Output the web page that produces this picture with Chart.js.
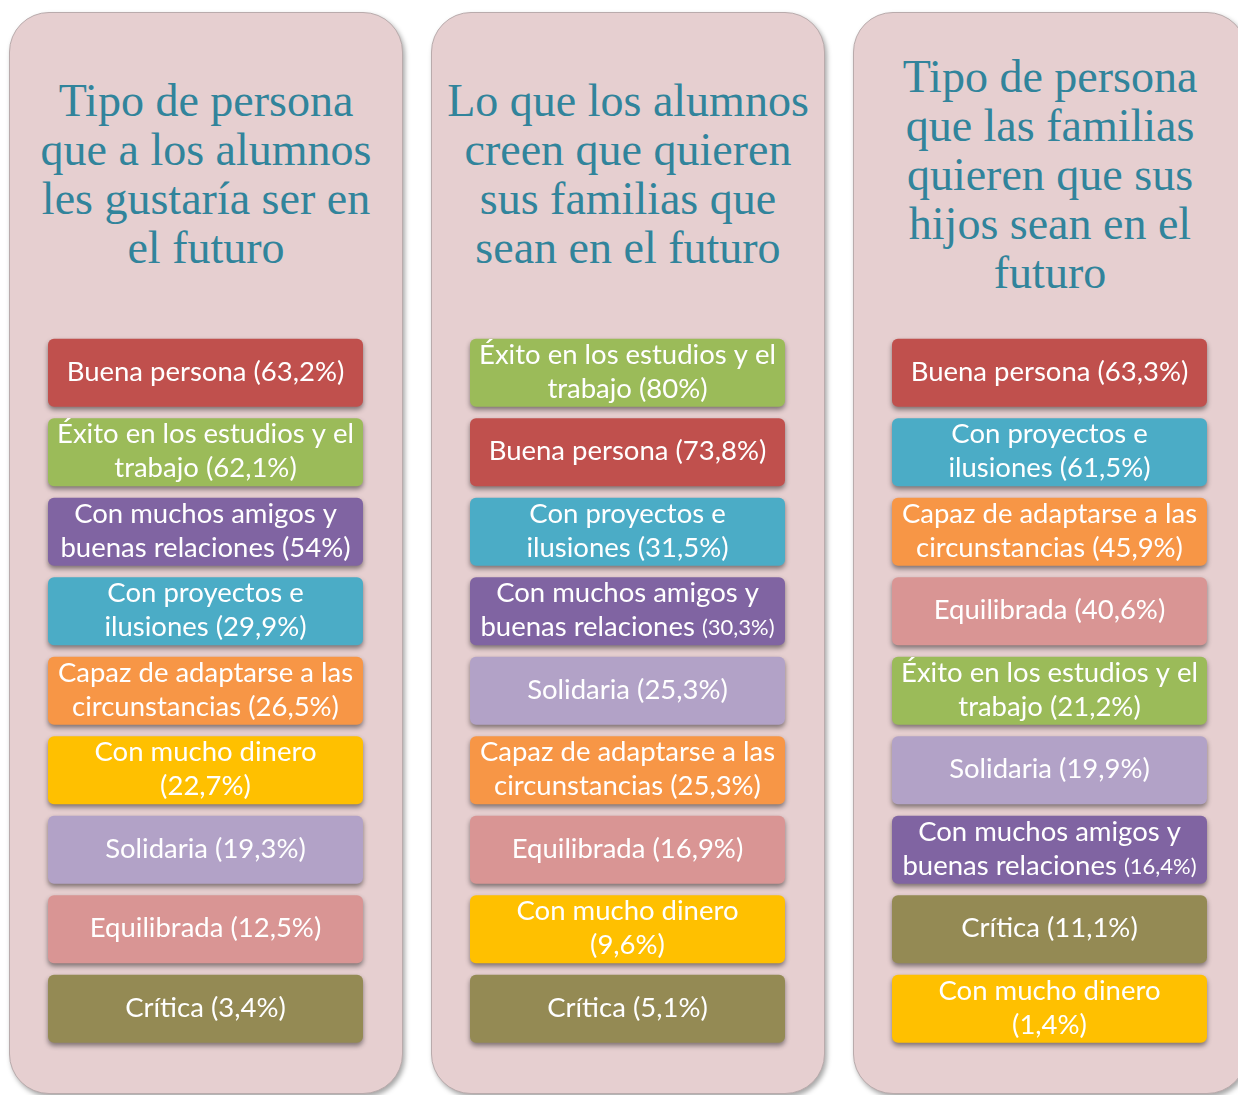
<!DOCTYPE html>
<html>
<head>
<meta charset="utf-8">
<script src="https://cdn.jsdelivr.net/npm/chart.js@4.4.0/dist/chart.umd.min.js"></script>
<style>
  body { margin: 0; width: 1238px; height: 1095px; overflow: hidden; background: #fff; position: relative; }
  .panel { position: absolute; top: 12px; width: 394px; height: 1082px; background: #e6cfd0;
           border: 1px solid #b9abac; border-radius: 40px; box-shadow: 2px 3px 5px rgba(0,0,0,.35); box-sizing: border-box; }
  .titulo { position: absolute; left: 0; right: 0; top: 0; height: 322px; display: flex; align-items: center;
            justify-content: center; text-align: center; font-family: "Liberation Serif", serif; font-size: 46px;
            line-height: 49px; color: #31849b; }
  canvas { position: absolute; top: 323px; }
</style>
</head>
<body>
<div class="panel" style="left:9px"><div class="titulo">Tipo de persona<br>que a los alumnos<br>les gustaría ser en<br>el futuro</div></div>
<div class="panel" style="left:431px"><div class="titulo">Lo que los alumnos<br>creen que quieren<br>sus familias que<br>sean en el futuro</div></div>
<div class="panel" style="left:853px"><div class="titulo">Tipo de persona<br>que las familias<br>quieren que sus<br>hijos sean en el<br>futuro</div></div>
<canvas id="c1" width="335" height="740" style="left:38px"></canvas>
<canvas id="c2" width="335" height="740" style="left:460px"></canvas>
<canvas id="c3" width="335" height="740" style="left:882px"></canvas>
<script>
// Datos: cada categoría en líneas; '' = el porcentaje va solo en la última línea
var categorias1 = [["Buena persona"], ["Éxito en los estudios y el", "trabajo"], ["Con muchos amigos y", "buenas relaciones"],
  ["Con proyectos e", "ilusiones"], ["Capaz de adaptarse a las", "circunstancias"], ["Con mucho dinero", ""],
  ["Solidaria"], ["Equilibrada"], ["Crítica"]];
var valores1 = [63.2, 62.1, 54, 29.9, 26.5, 22.7, 19.3, 12.5, 3.4];

var categorias2 = [["Éxito en los estudios y el", "trabajo"], ["Buena persona"], ["Con proyectos e", "ilusiones"],
  ["Con muchos amigos y", "buenas relaciones"], ["Solidaria"], ["Capaz de adaptarse a las", "circunstancias"],
  ["Equilibrada"], ["Con mucho dinero", ""], ["Crítica"]];
var valores2 = [80, 73.8, 31.5, 30.3, 25.3, 25.3, 16.9, 9.6, 5.1];

var categorias3 = [["Buena persona"], ["Con proyectos e", "ilusiones"], ["Capaz de adaptarse a las", "circunstancias"],
  ["Equilibrada"], ["Éxito en los estudios y el", "trabajo"], ["Solidaria"], ["Con muchos amigos y", "buenas relaciones"],
  ["Crítica"], ["Con mucho dinero", ""]];
var valores3 = [63.3, 61.5, 45.9, 40.6, 21.2, 19.9, 16.4, 11.1, 1.4];

var colores = {
  "Buena persona": "#c0504d",
  "Éxito en los estudios y el": "#9bbb59",
  "Con muchos amigos y": "#8064a2",
  "Con proyectos e": "#4bacc6",
  "Capaz de adaptarse a las": "#f79646",
  "Con mucho dinero": "#ffc000",
  "Solidaria": "#b2a2c7",
  "Equilibrada": "#d99594",
  "Crítica": "#948a54"
};

var fuente = '"Lato", sans-serif';
var tam = 27.5, tamPeq = 22, interlinea = 34;

function formato(v) {
  return String(v).replace('.', ',');
}

// sombra de las cajas
var sombra = {
  id: 'sombra',
  beforeDatasetsDraw: function (chart) {
    var ctx = chart.ctx;
    ctx.save();
    ctx.shadowColor = 'rgba(0,0,0,0.45)';
    ctx.shadowBlur = 5;
    ctx.shadowOffsetY = 3;
  },
  afterDatasetsDraw: function (chart) {
    chart.ctx.restore();
  }
};

// texto dentro de cada caja
var textoCajas = {
  id: 'textoCajas',
  afterDatasetsDraw: function (chart, args, opts) {
    var ctx = chart.ctx;
    var meta = chart.getDatasetMeta(0);
    ctx.save();
    ctx.fillStyle = '#ffffff';
    ctx.textBaseline = 'middle';
    meta.data.forEach(function (bar, i) {
      var lineas = opts.categorias[i].slice();
      var pct = '(' + formato(opts.valores[i]) + '%)';
      var n = lineas.length;
      var cx = (bar.x + bar.base) / 2;
      var y0 = bar.y - (n - 1) * interlinea / 2 - 1;
      for (var k = 0; k < n; k++) {
        var y = y0 + k * interlinea;
        var txt = lineas[k];
        if (k < n - 1) {
          ctx.font = tam + 'px ' + fuente;
          ctx.textAlign = 'center';
          ctx.fillText(txt, cx, y);
        } else if (opts.pequeno === i) {
          ctx.font = tam + 'px ' + fuente;
          var w1 = ctx.measureText(txt + ' ').width;
          ctx.font = tamPeq + 'px ' + fuente;
          var w2 = ctx.measureText(pct).width;
          var x = cx - (w1 + w2) / 2;
          ctx.textAlign = 'left';
          ctx.font = tam + 'px ' + fuente;
          ctx.fillText(txt + ' ', x, y);
          ctx.font = tamPeq + 'px ' + fuente;
          ctx.fillText(pct, x + w1, y + 1);
        } else {
          ctx.font = tam + 'px ' + fuente;
          ctx.textAlign = 'center';
          ctx.fillText(txt === '' ? pct : txt + ' ' + pct, cx, y);
        }
      }
    });
    ctx.restore();
  }
};

function crearPanel(id, categorias, valores, pequeno) {
  new Chart(document.getElementById(id), {
    type: 'bar',
    data: {
      labels: categorias.map(function (c) { return c.join(' '); }),
      datasets: [{
        data: categorias.map(function () { return [0, 1]; }),
        backgroundColor: categorias.map(function (c) { return colores[c[0]]; }),
        borderRadius: 6,
        borderSkipped: false,
        barPercentage: 0.855,
        categoryPercentage: 1,
        clip: false
      }]
    },
    options: {
      indexAxis: 'y',
      responsive: false,
      animation: false,
      layout: { padding: { left: 10, right: 10, top: 10, bottom: 14.5 } },
      scales: {
        x: { display: false, min: 0, max: 1 },
        y: { display: false }
      },
      plugins: {
        legend: { display: false },
        tooltip: { enabled: false },
        textoCajas: { categorias: categorias, valores: valores, pequeno: pequeno }
      }
    },
    plugins: [sombra, textoCajas]
  });
}

crearPanel('c1', categorias1, valores1, -1);
crearPanel('c2', categorias2, valores2, 3);
crearPanel('c3', categorias3, valores3, 6);
</script>
</body>
</html>
